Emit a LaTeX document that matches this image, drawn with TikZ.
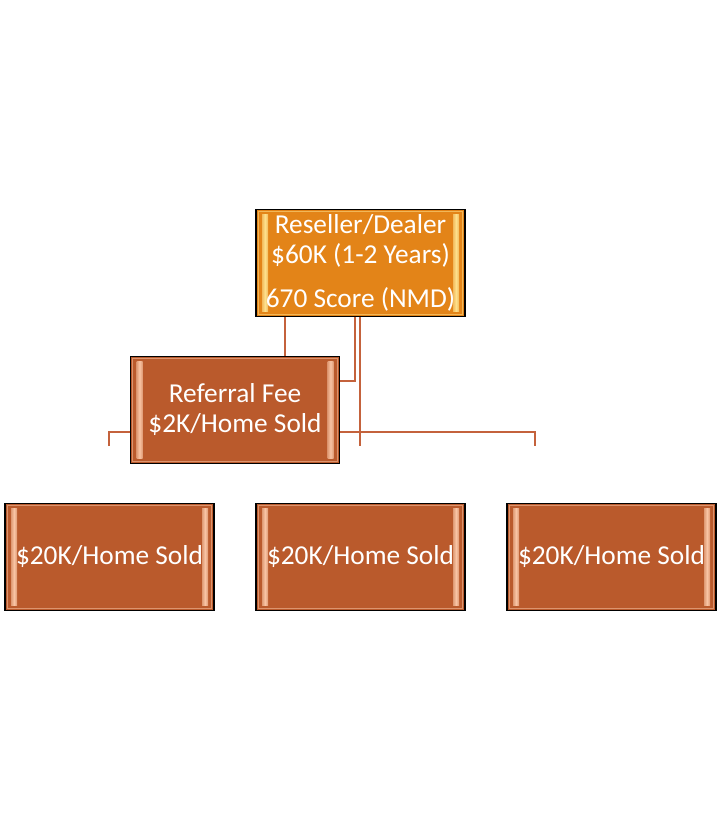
\documentclass[tikz,border=0pt]{standalone}
\usepackage{fontspec}
\setmainfont{Carlito}
\usetikzlibrary{positioning}

\definecolor{dealerorange}{RGB}{227,132,24}
\definecolor{dealerlight}{RGB}{253,224,140}
\definecolor{feebrown}{RGB}{186,90,44}
\definecolor{feelight}{RGB}{248,196,164}
\definecolor{linkclr}{RGB}{196,98,60}

\begin{document}
\begin{tikzpicture}[
    x=0.75pt, y=-0.75pt,
    font=\fontsize{20.5}{22.5}\selectfont,
    box/.style 2 args={rectangle, draw=black, line width=1.1pt, fill=#2, text=white, align=center,
        minimum width=156.75pt, minimum height=80.25pt, inner sep=0pt,
        path picture={
            \draw[#1!55!#2, line width=1pt]
                ([xshift=1.7pt,yshift=-1.7pt]path picture bounding box.north west) rectangle
                ([xshift=-1.7pt,yshift=1.7pt]path picture bounding box.south east);
            \shade[left color=#1!60!#2, right color=#1!60!#2, middle color=#1]
                ([xshift=4.5pt,yshift=-4pt]path picture bounding box.north west) rectangle
                ([xshift=9pt,yshift=4pt]path picture bounding box.south west);
            \shade[left color=#1!60!#2, right color=#1!60!#2, middle color=#1]
                ([xshift=-4.5pt,yshift=-4pt]path picture bounding box.north east) rectangle
                ([xshift=-9pt,yshift=4pt]path picture bounding box.south east);
        }},
    dealerbox/.style={box={dealerlight}{dealerorange}},
    feebox/.style={box={feelight}{feebrown}},
    link/.style={draw=linkclr, line width=1.5pt}
]
\useasboundingbox (0,0) rectangle (721,818);

% ends of the lower bar
\coordinate (jl) at (109,432);
\coordinate (jr) at (535,432);
\coordinate (jm) at (360,432);
\coordinate (ll) at (109,446);
\coordinate (lm) at (360,446);
\coordinate (lr) at (535,446);

% bar goes behind the referral box
\draw[link] (ll) -- (jl) -- (jr) -- (lr);

\node[dealerbox] (dealer) at (360.5,263) {Reseller/Dealer\\\$60K (1-2 Years)\\[10pt]670 Score (NMD)};
\node[feebox] (referral) at (235,410) {Referral Fee\\\$2K/Home Sold};

\draw[link] (dealer.south -| 285,0) -- (referral.north -| 285,0);
\draw[link] (dealer.south -| 355,0) |- (referral.east |- 0,381);
\draw[link] (dealer.south -| jm) -- (lm);

\node[feebox] (homea) at (109.5,557) {\$20K/Home Sold};
\node[feebox] (homeb) at (360.5,557) {\$20K/Home Sold};
\node[feebox] (homec) at (611.5,557) {\$20K/Home Sold};
\end{tikzpicture}
\end{document}
